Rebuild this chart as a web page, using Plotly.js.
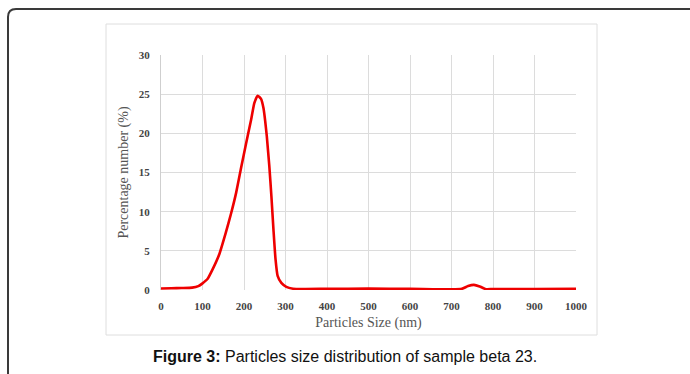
<!DOCTYPE html>
<html>
<head>
<meta charset="utf-8">
<script src="https://cdn.plot.ly/plotly-3.0.1.min.js"></script>
<style>
html,body{margin:0;padding:0;background:#fff;}
#chart{width:690px;height:374px;}
</style>
</head>
<body>
<div id="chart"></div>
<script>
// Data
const particleSize = [0, 25, 50, 75, 90, 100, 112, 124, 140, 156,
  169, 181, 193, 205, 217, 225, 233, 241, 247, 251,
  255, 261, 266, 271, 276, 281, 290, 302, 318, 340,
  400, 500, 600, 700, 725, 740, 754, 768, 783, 800,
  900, 1000];
const percentNumber = [0.2, 0.22, 0.25, 0.3, 0.5, 0.85, 1.4, 2.6, 4.5, 7.3,
  9.8, 12.4, 15.6, 18.7, 21.7, 23.9, 24.8, 24.4, 23.2, 21.6,
  19.6, 15.8, 12, 7.7, 3.9, 1.8, 0.9, 0.4, 0.17, 0.12,
  0.15, 0.18, 0.15, 0.08, 0.15, 0.5, 0.65, 0.45, 0.1, 0.12,
  0.12, 0.15];
const xTicks = [0, 100, 200, 300, 400, 500, 600, 700, 800, 900, 1000];
const yTicks = [0, 5, 10, 15, 20, 25, 30];
const xTitle = 'Particles Size (nm)';
const yTitle = 'Percentage number (%)';
const caption = '<b>Figure 3:</b> Particles size distribution of sample beta 23.';

// plot area in pixels
const L = 161, R = 576, T = 55, B = 290;
const W = 690, H = 374;
const px = x => (x - L) / (R - L);
const py = y => (B - y) / (B - T);

const trace = {
  x: particleSize, y: percentNumber, type: 'scatter', mode: 'lines',
  line: {color: '#ee0000', width: 2.6, shape: 'spline', smoothing: 0.5},
  hoverinfo: 'x+y'
};

const tickFont = {family: '"Liberation Serif", "Times New Roman", serif', size: 11, color: '#444', weight: 'bold'};
const titleFont = {family: '"Liberation Serif", "Times New Roman", serif', size: 14, color: '#555'};

const outerPath = `M ${px(8)} ${py(374)} L ${px(8)} ${py(17)} Q ${px(8)} ${py(9)} ${px(16)} ${py(9)} L ${px(690)} ${py(9)}`;

const layout = {
  width: W, height: H,
  margin: {l: L, r: W - R, t: T, b: H - B, pad: 0},
  paper_bgcolor: '#fff', plot_bgcolor: '#fff',
  showlegend: false,
  xaxis: {
    range: [0, 1000], tickvals: xTicks, ticktext: xTicks.map(String),
    showgrid: true, gridcolor: '#dcdcdc', gridwidth: 1,
    zeroline: false, showline: false, ticks: '',
    ticklabelstandoff: 8,
    tickfont: tickFont, fixedrange: true,
    title: {text: xTitle, font: titleFont, standoff: 6}
  },
  yaxis: {
    range: [0, 30], tickvals: yTicks, ticktext: yTicks.map(String),
    showgrid: true, gridcolor: '#dcdcdc', gridwidth: 1,
    zeroline: false, showline: true, linecolor: '#cfcfcf', linewidth: 1,
    ticks: '', ticklabelstandoff: 8,
    tickfont: tickFont, fixedrange: true,
    title: {text: yTitle, font: titleFont, standoff: 6}
  },
  shapes: [
    {type: 'path', xref: 'paper', yref: 'paper', path: outerPath,
     line: {color: '#3a3a3a', width: 2}, layer: 'above'},
    {type: 'rect', xref: 'paper', yref: 'paper',
     x0: px(106), x1: px(597), y0: py(335), y1: py(24),
     line: {color: '#dedede', width: 1}, layer: 'below'}
  ],
  annotations: [
    {text: caption, xref: 'paper', yref: 'paper', x: px(345), y: py(356),
     xanchor: 'center', yanchor: 'middle', showarrow: false,
     font: {family: '"Liberation Sans", Arial, sans-serif', size: 16, color: '#111'}}
  ]
};

Plotly.newPlot('chart', [trace], layout, {displayModeBar: false, staticPlot: true});
</script>
</body>
</html>
